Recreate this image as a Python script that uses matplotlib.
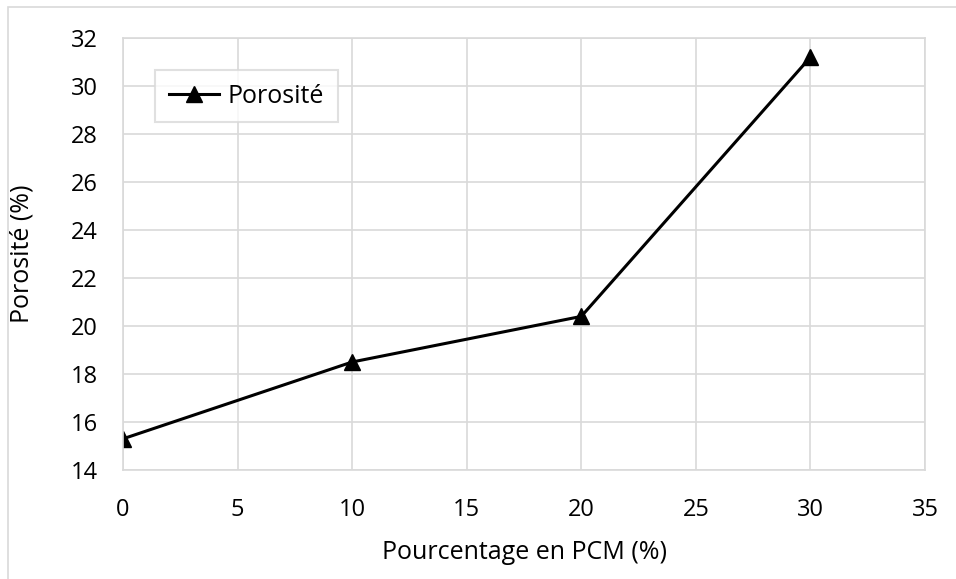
import matplotlib.pyplot as plt
from matplotlib.patches import Rectangle

# data
pcm = [0, 10, 20, 30]
porosite = [15.3, 18.5, 20.4, 31.2]
x_ticks = [0, 5, 10, 15, 20, 25, 30, 35]
y_ticks = [14, 16, 18, 20, 22, 24, 26, 28, 30, 32]

plt.rcParams['font.family'] = ['Open Sans', 'DejaVu Sans']
grid_col = '#d9d9d9'

fig = plt.figure(figsize=(9.56, 5.79), dpi=100)
ax = fig.add_axes([123 / 956, 1 - 470 / 579, (925 - 123) / 956, (470 - 38) / 579])

# outer chart frame (cut at right and bottom like the source)
fig.patches.append(Rectangle((8 / 956, -0.1), 1.2, 1 - 7 / 579 + 0.1, transform=fig.transFigure,
                             fill=False, edgecolor=grid_col, lw=1.2))

ax.plot(pcm, porosite, color='black', lw=2.2, marker='^', markersize=12, label='Porosité')

ax.set_xlim(0, 35)
ax.set_ylim(14, 32)
ax.set_xticks(x_ticks)
ax.set_yticks(y_ticks)
ax.grid(True, color=grid_col, lw=1.2)
ax.set_axisbelow(True)
for s in ax.spines.values():
    s.set_color(grid_col)
    s.set_linewidth(1.2)
ax.tick_params(length=0, labelsize=17)
ax.tick_params(axis='y', pad=18)
ax.tick_params(axis='x', pad=20)

ax.set_xlabel('Pourcentage en PCM (%)', fontsize=18, labelpad=13)
ax.set_ylabel('Porosité (%)', fontsize=18, labelpad=26)

leg = ax.legend(loc='upper left', bbox_to_anchor=(0.04, 0.926), borderaxespad=0, fontsize=18,
                frameon=True, fancybox=False, edgecolor=grid_col, handlelength=2.0,
                handletextpad=0.35, borderpad=0.55)
leg.get_frame().set_linewidth(1.5)

fig.savefig('out.png', dpi=100)
